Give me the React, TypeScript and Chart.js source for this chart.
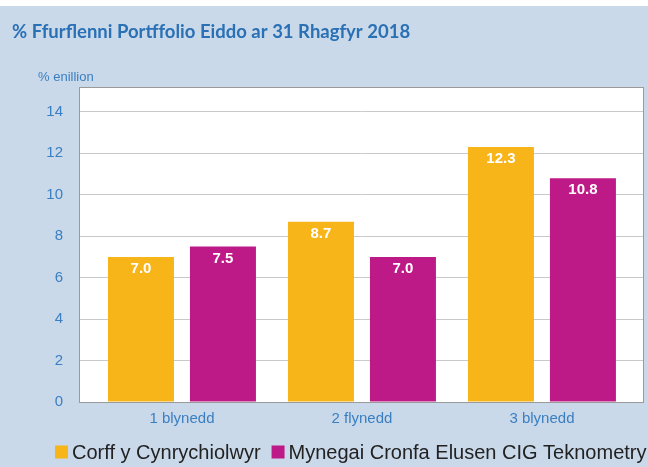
import React, { useEffect, useRef } from "react";
import { Chart, registerables } from "chart.js";

Chart.register(...registerables);

const titleText = "% Ffurflenni Portffolio Eiddo ar 31 Rhagfyr 2018";
const yAxisLabel = "% enillion";
const categories = ["1 blynedd", "2 flynedd", "3 blynedd"];
const seriesNames = ["Corff y Cynrychiolwyr", "Mynegai Cronfa Elusen CIG Teknometry"];
const corffValues = [7.0, 8.7, 12.3];
const mynegaiValues = [7.5, 7.0, 10.8];
const yTicks = [0, 2, 4, 6, 8, 10, 12, 14];
const seriesColors = ["#F8B51A", "#BE1A87"];

const BG = "#C9D9EA";
const TITLE_BLUE = "#2A70B5";
const TICK_BLUE = "#3A7FC2";

const framePlugin = {
  id: "frame",
  afterDraw(chart: any) {
    const { ctx, chartArea } = chart;
    ctx.save();
    ctx.strokeStyle = "#9a9a9a";
    ctx.lineWidth = 1;
    ctx.strokeRect(
      Math.round(chartArea.left) + 0.5,
      Math.round(chartArea.top) + 0.5,
      Math.round(chartArea.right - chartArea.left) - 1,
      Math.round(chartArea.bottom - chartArea.top)
    );
    ctx.restore();
  },
};

const plotBgPlugin = {
  id: "plotBg",
  beforeDraw(chart: any) {
    const { ctx, chartArea } = chart;
    ctx.save();
    ctx.fillStyle = "#ffffff";
    ctx.fillRect(chartArea.left, chartArea.top, chartArea.right - chartArea.left, chartArea.bottom - chartArea.top);
    ctx.restore();
  },
};

const valueLabelPlugin = {
  id: "valueLabels",
  afterDatasetsDraw(chart: any) {
    const { ctx } = chart;
    ctx.save();
    ctx.fillStyle = "#ffffff";
    ctx.font = 'bold 15px "Liberation Sans", Arial, sans-serif';
    ctx.textAlign = "center";
    ctx.textBaseline = "middle";
    chart.data.datasets.forEach((ds: any, di: number) => {
      const meta = chart.getDatasetMeta(di);
      meta.data.forEach((bar: any, i: number) => {
        const v = ds.data[i].y;
        ctx.fillText(v.toFixed(1), bar.x, bar.y + 12);
      });
    });
    ctx.restore();
  },
};

const extrasPlugin = {
  id: "extras",
  afterDraw(chart: any) {
    const { ctx, chartArea } = chart;
    ctx.save();
    ctx.fillStyle = TICK_BLUE;
    ctx.font = '13px "Liberation Sans", Arial, sans-serif';
    ctx.textAlign = "left";
    ctx.textBaseline = "middle";
    ctx.fillText(yAxisLabel, chartArea.left - 41, chartArea.top - 10);

    ctx.font = '20px "Liberation Sans", Arial, sans-serif';
    const box = 13;
    const gap = 4;
    const itemGap = 11;
    const cy = 452;
    let x = 55;
    chart.data.datasets.forEach((ds: any) => {
      ctx.fillStyle = ds.backgroundColor;
      ctx.fillRect(x, cy - box / 2, box, box);
      x += box + gap;
      ctx.fillStyle = "#222222";
      ctx.fillText(ds.label, x, cy + 1);
      x += ctx.measureText(ds.label).width + itemGap;
    });
    ctx.restore();
  },
};

export default function App() {
  const ref = useRef<HTMLCanvasElement | null>(null);

  useEffect(() => {
    if (!ref.current) return;
    const chart = new Chart(ref.current, {
      type: "bar",
      data: {
        datasets: [
          {
            label: seriesNames[0],
            data: corffValues.map((v, i) => ({ x: i + 1, y: v })),
            backgroundColor: seriesColors[0],
            borderWidth: 0,
          },
          {
            label: seriesNames[1],
            data: mynegaiValues.map((v, i) => ({ x: i + 1, y: v })),
            backgroundColor: seriesColors[1],
            borderWidth: 0,
          },
        ],
      },
      plugins: [plotBgPlugin, framePlugin, valueLabelPlugin, extrasPlugin],
      options: {
        animation: false,
        responsive: false,
        maintainAspectRatio: false,
        datasets: {
          bar: { categoryPercentage: 0.911, barPercentage: 0.805 },
        },
        layout: { padding: { left: 12, right: 4, top: 0, bottom: 0 } },
        plugins: {
          legend: { display: false },
          tooltip: { enabled: false },
          title: {
            display: true,
            text: titleText,
            align: "start",
            color: TITLE_BLUE,
            font: { family: "Lato, 'Open Sans', sans-serif", size: 18.5, weight: "bold" },
            padding: { top: 21, bottom: 43.8 },
          },
        },
        scales: {
          x: {
            type: "linear",
            offset: false,
            min: 0.428,
            max: 3.567,
            grid: { display: false, drawTicks: false, offset: false },
            border: { display: false },
            afterBuildTicks: (scale: any) => {
              scale.ticks = categories.map((_, i) => ({ value: i + 1 }));
            },
            afterFit: (scale: any) => {
              scale.height = 65;
            },
            ticks: {
              padding: 8,
              color: TICK_BLUE,
              font: { family: "'Liberation Sans', Arial, sans-serif", size: 15 },
              callback: (v: any) => categories[Math.round(Number(v)) - 1] ?? "",
              maxRotation: 0,
              autoSkip: false,
            },
          },
          y: {
            min: 0,
            max: 15.2,
            grid: { color: "#c9c9c9", lineWidth: 1, drawTicks: false },
            border: { display: false },
            afterBuildTicks: (scale: any) => {
              scale.ticks = yTicks.map((v) => ({ value: v }));
            },
            afterFit: (scale: any) => {
              scale.width = 67;
            },
            ticks: {
              padding: 16,
              color: TICK_BLUE,
              font: { family: "'Liberation Sans', Arial, sans-serif", size: 15 },
            },
          },
        },
      },
    } as any);
    return () => chart.destroy();
  }, []);

  return (
    <div
      style={{
        position: "fixed",
        left: 0,
        top: 0,
        width: 648,
        height: 467,
        background: `linear-gradient(#ffffff 0px, #ffffff 6px, ${BG} 6px)`,
      }}
    >
      <canvas ref={ref} width={648} height={467} style={{ display: "block" }} />
    </div>
  );
}
